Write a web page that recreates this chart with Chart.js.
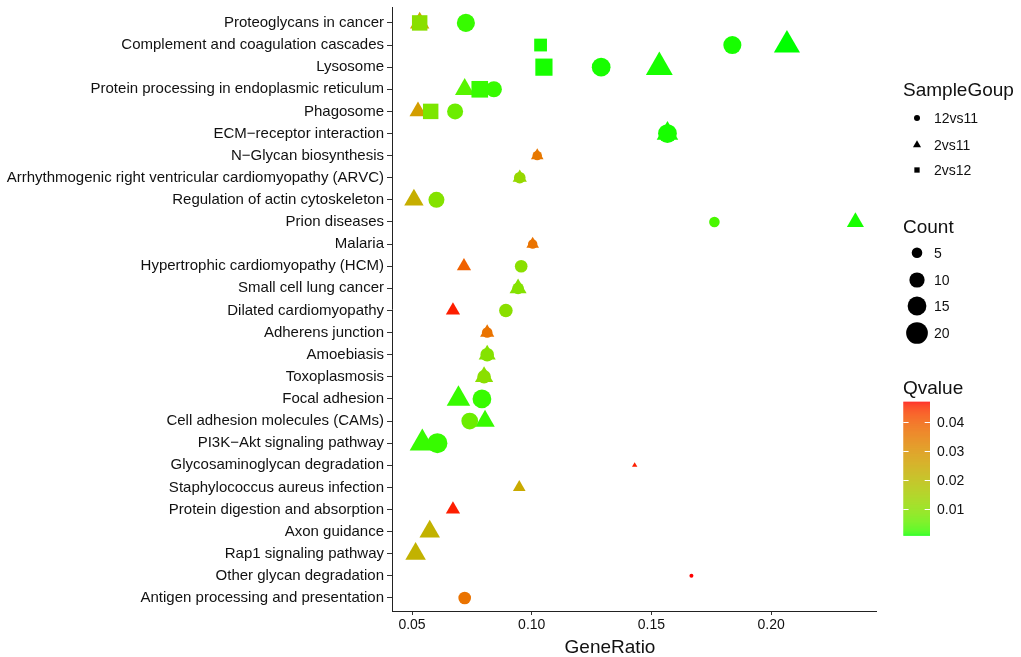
<!DOCTYPE html>
<html>
<head>
<meta charset="utf-8">
<script src="https://cdn.jsdelivr.net/npm/chart.js@4.4.1/dist/chart.umd.min.js"></script>
<style>
  html, body { margin: 0; padding: 0; background: #fff; }
  #wrap { width: 1021px; height: 657px; }
</style>
</head>
<body>
<div id="wrap"><canvas id="grafico" width="1021" height="657"></canvas></div>
<script>
// Categorias (de arriba hacia abajo)
const pathways = [
    'Proteoglycans in cancer',
    'Complement and coagulation cascades',
    'Lysosome',
    'Protein processing in endoplasmic reticulum',
    'Phagosome',
    'ECM\u2212receptor interaction',
    'N\u2212Glycan biosynthesis',
    'Arrhythmogenic right ventricular cardiomyopathy (ARVC)',
    'Regulation of actin cytoskeleton',
    'Prion diseases',
    'Malaria',
    'Hypertrophic cardiomyopathy (HCM)',
    'Small cell lung cancer',
    'Dilated cardiomyopathy',
    'Adherens junction',
    'Amoebiasis',
    'Toxoplasmosis',
    'Focal adhesion',
    'Cell adhesion molecules (CAMs)',
    'PI3K\u2212Akt signaling pathway',
    'Glycosaminoglycan degradation',
    'Staphylococcus aureus infection',
    'Protein digestion and absorption',
    'Axon guidance',
    'Rap1 signaling pathway',
    'Other glycan degradation',
    'Antigen processing and presentation'
];
const xTicks = [0.05, 0.10, 0.15, 0.20];
const countBreaks = [5, 10, 15, 20];
const qTicks = [0.01, 0.02, 0.03, 0.04];

// 12vs11 (circulos) - indice de la via en pathways
const g1Path  = [0, 1, 2, 3, 4, 5, 6, 7, 8, 9, 10, 11, 12, 13, 14, 15, 16, 17, 18, 19, 25, 26];
const g1Ratio = [0.0725, 0.1838, 0.1290, 0.0842, 0.0680, 0.1567, 0.1023, 0.0950, 0.0602, 0.1763, 0.1004,
                 0.0956, 0.0943, 0.0892, 0.0814, 0.0814, 0.0801, 0.0792, 0.0741, 0.0606, 0.1667, 0.0720];
const g1Count = [14, 14, 15, 11, 11, 15, 4, 6, 11, 5, 4, 7, 6, 8, 5, 8, 8, 15, 12, 17, 1, 7];
const g1Q     = [0.002, 0.001, 0.001, 0.002, 0.006, 0.001, 0.035, 0.012, 0.009, 0.003, 0.036,
                 0.010, 0.009, 0.010, 0.036, 0.009, 0.010, 0.002, 0.006, 0.002, 0.0469, 0.036];

// 2vs11 (triangulos)
const g2Path  = [0, 1, 2, 3, 4, 5, 6, 7, 8, 9, 10, 11, 12, 13, 14, 15, 16, 17, 18, 19, 20, 21, 22, 23, 24];
const g2Ratio = [0.0532, 0.2066, 0.1533, 0.0720, 0.0525, 0.1567, 0.1023, 0.0950, 0.0508, 0.2352, 0.1004,
                 0.0717, 0.0943, 0.0671, 0.0814, 0.0814, 0.0801, 0.0694, 0.0805, 0.0543, 0.1430, 0.0948,
                 0.0671, 0.0574, 0.0515];
const g2Count = [9, 16, 17, 9, 7, 11, 4, 5, 9, 7, 4, 5, 7, 5, 5, 7, 8, 13, 9, 15, 1, 4, 5, 10, 10];
const g2Q     = [0.025, 0.0007, 0.001, 0.004, 0.027, 0.001, 0.035, 0.012, 0.023, 0.001, 0.036,
                 0.039, 0.009, 0.046, 0.036, 0.009, 0.010, 0.002, 0.002, 0.002, 0.046, 0.024,
                 0.046, 0.022, 0.022];

// 2vs12 (cuadrados)
const g3Path  = [0, 1, 2, 3, 4];
const g3Ratio = [0.0532, 0.1037, 0.1051, 0.0783, 0.0578];
const g3Count = [13, 9, 16, 15, 13];
const g3Q     = [0.010, 0.001, 0.001, 0.002, 0.008];

const fuente = '"Liberation Sans", Arial, Helvetica, sans-serif';
const qMin = Math.min(...g1Q, ...g2Q, ...g3Q);
const qMax = Math.max(...g1Q, ...g2Q, ...g3Q);

// Diametro del circulo segun Count (area lineal)
function diametro(count) {
    return Math.sqrt(16 + 24 * (count - 1));
}

// Radio de Chart.js para que cada forma tenga la misma area que en ggplot
function radio(count, forma) {
    const r = diametro(count) / 2;
    if (forma === 'triangle') return r * 1.555;
    if (forma === 'rect') return r * 1.2533;
    return r;
}

// Conversion sRGB <-> Lab para el degradado verde -> rojo
function hexALab(hex) {
    const c = [1, 3, 5].map(i => parseInt(hex.slice(i, i + 2), 16) / 255)
        .map(v => v <= 0.04045 ? v / 12.92 : Math.pow((v + 0.055) / 1.055, 2.4));
    const X = (0.4124 * c[0] + 0.3576 * c[1] + 0.1805 * c[2]) / 0.95047;
    const Y = (0.2126 * c[0] + 0.7152 * c[1] + 0.0722 * c[2]);
    const Z = (0.0193 * c[0] + 0.1192 * c[1] + 0.9505 * c[2]) / 1.08883;
    const f = t => t > 0.008856 ? Math.cbrt(t) : 7.787 * t + 16 / 116;
    return [116 * f(Y) - 16, 500 * (f(X) - f(Y)), 200 * (f(Y) - f(Z))];
}

function labARgb(L, a, b) {
    const fy = (L + 16) / 116, fx = fy + a / 500, fz = fy - b / 200;
    const finv = t => t > 0.206893 ? t * t * t : (t - 16 / 116) / 7.787;
    const X = finv(fx) * 0.95047, Y = finv(fy), Z = finv(fz) * 1.08883;
    const lin = [
        3.2406 * X - 1.5372 * Y - 0.4986 * Z,
        -0.9689 * X + 1.8758 * Y + 0.0415 * Z,
        0.0557 * X - 0.2040 * Y + 1.0570 * Z
    ];
    const rgb = lin.map(v => {
        const s = v <= 0.0031308 ? 12.92 * v : 1.055 * Math.pow(v, 1 / 2.4) - 0.055;
        return Math.round(Math.max(0, Math.min(1, s)) * 255);
    });
    return 'rgb(' + rgb.join(',') + ')';
}

const labBajo = hexALab('#00FF00');
const labAlto = hexALab('#FF0000');

function colorQ(q) {
    let t = (q - qMin) / (qMax - qMin);
    t = Math.max(0, Math.min(1, t));
    return labARgb(
        labBajo[0] + (labAlto[0] - labBajo[0]) * t,
        labBajo[1] + (labAlto[1] - labBajo[1]) * t,
        labBajo[2] + (labAlto[2] - labBajo[2]) * t
    );
}

function armarDatos(paths, ratios, counts, qs) {
    return paths.map((p, i) => ({ x: ratios[i], y: p, count: counts[i], q: qs[i] }));
}

function dataset(etiqueta, forma, orden, datos) {
    return {
        label: etiqueta,
        data: datos,
        order: orden,
        pointStyle: forma,
        pointRadius: ctx => ctx.raw ? radio(ctx.raw.count, forma) : 3,
        pointHoverRadius: ctx => ctx.raw ? radio(ctx.raw.count, forma) : 3,
        pointBackgroundColor: ctx => ctx.raw ? colorQ(ctx.raw.q) : '#000',
        pointBorderWidth: 0,
        pointHoverBorderWidth: 0
    };
}

// Leyendas a la derecha y titulo del eje X
const leyendas = {
    id: 'leyendas',
    afterDraw(chart) {
        const ctx = chart.ctx;
        const dibujar = Chart.helpers.drawPoint;
        ctx.save();
        ctx.fillStyle = '#111';
        ctx.textAlign = 'left';
        ctx.textBaseline = 'alphabetic';
        ctx.font = '19px ' + fuente;
        ctx.fillText('SampleGoup', 903, 96);
        ctx.fillText('Count', 903, 232.5);
        ctx.fillText('Qvalue', 903, 394);

        // formas
        const formas = [['circle', '12vs11', 118], ['triangle', '2vs11', 145], ['rect', '2vs12', 170]];
        ctx.font = '14px ' + fuente;
        ctx.textBaseline = 'middle';
        formas.forEach(f => {
            ctx.fillStyle = '#000';
            const r = f[0] === 'triangle' ? 3 * 1.555 : (f[0] === 'rect' ? 3 * 1.2533 : 3);
            dibujar(ctx, { pointStyle: f[0], radius: r, borderWidth: 0, rotation: 0 }, 917, f[2]);
            ctx.fillStyle = '#111';
            ctx.fillText(f[1], 934, f[2] + 1);
        });

        // tamanos
        const ys = [252.7, 280, 306, 333];
        countBreaks.forEach((c, i) => {
            ctx.fillStyle = '#000';
            dibujar(ctx, { pointStyle: 'circle', radius: diametro(c) / 2, borderWidth: 0, rotation: 0 }, 917, ys[i]);
            ctx.fillStyle = '#111';
            ctx.fillText(String(c), 934, ys[i] + 1);
        });

        // barra de color
        const bx = 903.3, bw = 26.7, top = 401.7, bottom = 535.7;
        const yQ = q => bottom - (q - qMin) / (qMax - qMin) * (bottom - top);
        for (let y = top; y < bottom; y += 1) {
            const q = qMax - (y + 0.5 - top) / (bottom - top) * (qMax - qMin);
            ctx.fillStyle = colorQ(q);
            ctx.fillRect(bx, y, bw, 1.05);
        }
        ctx.strokeStyle = '#fff';
        ctx.lineWidth = 1;
        qTicks.forEach(q => {
            const y = Math.round(yQ(q)) + 0.5;
            ctx.beginPath();
            ctx.moveTo(bx, y); ctx.lineTo(bx + 5.3, y);
            ctx.moveTo(bx + bw - 5.3, y); ctx.lineTo(bx + bw, y);
            ctx.stroke();
            ctx.fillStyle = '#111';
            ctx.fillText(q.toFixed(2), 937, yQ(q) + 1);
        });

        // titulo eje X
        ctx.font = '19px ' + fuente;
        ctx.textAlign = 'center';
        ctx.textBaseline = 'alphabetic';
        ctx.fillStyle = '#111';
        ctx.fillText('GeneRatio', 610, 653);
        ctx.restore();
    }
};

function inicializar() {
    const ctx = document.getElementById('grafico').getContext('2d');
    new Chart(ctx, {
        type: 'scatter',
        data: {
            datasets: [
                dataset('12vs11', 'circle', 0, armarDatos(g1Path, g1Ratio, g1Count, g1Q)),
                dataset('2vs12', 'rect', 1, armarDatos(g3Path, g3Ratio, g3Count, g3Q)),
                dataset('2vs11', 'triangle', 2, armarDatos(g2Path, g2Ratio, g2Count, g2Q))
            ]
        },
        options: {
            responsive: false,
            animation: false,
            layout: { autoPadding: false, padding: { top: 7, right: 145, bottom: 0, left: 0 } },
            plugins: {
                legend: { display: false },
                tooltip: { enabled: false }
            },
            scales: {
                x: {
                    type: 'linear',
                    min: 0.04164,
                    max: 0.2438,
                    afterBuildTicks: s => { s.ticks = xTicks.map(v => ({ value: v })); },
                    afterFit: s => { s.height = 46; s.paddingLeft = 0; s.paddingRight = 0; },
                    ticks: {
                        callback: v => v.toFixed(2),
                        font: { size: 14, family: fuente },
                        color: '#111',
                        padding: 2,
                        maxRotation: 0
                    },
                    grid: { drawOnChartArea: false, drawTicks: true, tickLength: 4, color: '#333' },
                    border: { display: true, color: '#222', width: 1 }
                },
                y: {
                    type: 'linear',
                    reverse: true,
                    min: -0.72,
                    max: 26.59,
                    afterBuildTicks: s => { s.ticks = pathways.map((p, i) => ({ value: i })); },
                    afterFit: s => { s.width = 392; s.paddingTop = 0; s.paddingBottom = 0; },
                    ticks: {
                        autoSkip: false,
                        callback: v => pathways[v],
                        font: { size: 15, family: fuente },
                        color: '#111',
                        padding: 3
                    },
                    grid: { drawOnChartArea: false, drawTicks: true, tickLength: 5, color: '#333' },
                    border: { display: true, color: '#222', width: 1 }
                }
            }
        },
        plugins: [leyendas]
    });
}

inicializar();
</script>
</body>
</html>
